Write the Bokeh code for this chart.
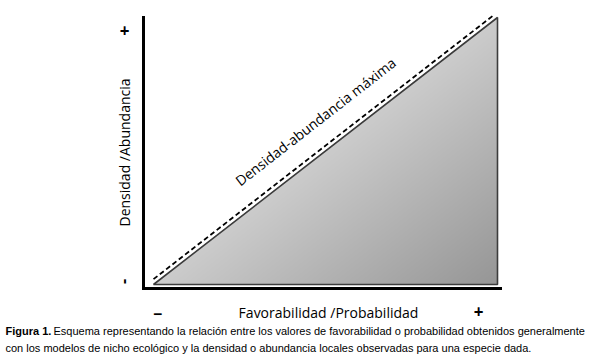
import math
import numpy as np
from bokeh.plotting import figure
from bokeh.models import Range1d, Label
from bokeh.embed import file_html
from bokeh.resources import INLINE

# ---- data ----
favorabilidad = [0.0, 1.0]          # x: - .. +
densidad_max = [0.0, 1.0]           # y: maximum density line
x_tick_labels = ["−", "+"]
y_tick_labels = ["-", "+"]
x_title = "Favorabilidad /Probabilidad"
y_title = "Densidad /Abundancia"
line_title = "Densidad-abundancia máxima"
caption_bold = "Figura 1."
caption_1 = "Esquema representando la relación entre los valores de favorabilidad o probabilidad obtenidos generalmente"
caption_2 = "con los modelos de nicho ecológico y la densidad o abundancia locales observadas para una especie dada."

W, H = 590, 361
AX_L, AX_R, AX_T, AX_B = 143, 500, 17, 288  # axis lines, pixels
X0PX, X1PX, Y0PX, Y1PX = 153, 497, 284, 17  # where data 0/1 fall
sx = (X1PX - X0PX)
sy = (Y0PX - Y1PX)


def dx(px):
    return (px - X0PX) / sx


def dy(py):
    return (Y0PX - py) / sy


p = figure(width=W, height=H, output_backend="svg", toolbar_location=None,
           x_range=Range1d(dx(0), dx(W)), y_range=Range1d(dy(H), dy(0)),
           min_border=0)
p.grid.visible = False
p.axis.visible = False
p.outline_line_color = None
p.background_fill_color = "white"
p.border_fill_color = "white"

# axis lines
p.segment(x0=[dx(AX_L), dx(AX_L)], y0=[dy(AX_B), dy(AX_B)],
          x1=[dx(AX_L), dx(AX_R)], y1=[dy(AX_T), dy(AX_B)],
          line_color="black", line_width=3, line_cap="square")

# gradient fill of the triangle (light near the diagonal, darker bottom-right)
nx, ny = sx, sy
xs = (np.arange(nx) + 0.5) / nx
ys = (np.arange(ny) + 0.5) / ny
XX, YY = np.meshgrid(xs, ys)
gray = np.clip(204 - 54 * (XX - YY), 0, 255).astype(np.uint32)
slope = (densidad_max[1] - densidad_max[0]) / (favorabilidad[1] - favorabilidad[0])
alpha = np.where(YY <= XX * slope, 255, 0).astype(np.uint32)
img = (alpha << 24) | (gray << 16) | (gray << 8) | gray
p.image_rgba(image=[img.view(np.uint32)], x=favorabilidad[0], y=densidad_max[0],
             dw=favorabilidad[1] - favorabilidad[0], dh=densidad_max[1] - densidad_max[0])

# triangle outline
tri_x = [favorabilidad[0], favorabilidad[1], favorabilidad[1]]
tri_y = [densidad_max[0], densidad_max[1], densidad_max[0]]
p.patch(tri_x, tri_y, fill_color=None, line_color="#3c3c3c", line_width=1.6)

# dashed maximum line, slightly above the diagonal
offset = 0.02
dash_x = [favorabilidad[0], favorabilidad[1] - 0.01]
p.line(dash_x, [v * slope + offset for v in dash_x], line_color="black",
       line_width=1.8, line_dash="5 3")

ang = math.atan2(sy, sx)
FONT = "Open Sans"


def lab(px, py, text, **kw):
    opts = dict(text_align="center", text_baseline="middle", text_font=FONT,
                text_font_size="14px", text_color="black")
    opts.update(kw)
    p.add_layout(Label(x=dx(px), y=dy(py), text=text, **opts))


lab(315, 121, line_title, angle=ang, text_font_size="14px")

# axis titles
lab(124, 152, y_title, angle=math.pi / 2)
lab(328, 312, x_title)

# +/- ends
lab(124, 30, y_tick_labels[1], text_font_size="17px", text_font_style="bold")
lab(122, 281, y_tick_labels[0], angle=math.pi / 2, text_font_size="16px", text_font_style="bold")
lab(157, 313, x_tick_labels[0], text_font_size="16px", text_font_style="bold")
lab(478, 311, x_tick_labels[1], text_font_size="17px", text_font_style="bold")

# caption
CF = "Liberation Sans"
lab(5, 330, caption_bold, text_align="left", text_font=CF, text_font_size="11px",
    text_font_style="bold")
lab(53, 330, caption_1, text_align="left", text_font=CF, text_font_size="11px")
lab(5, 347, caption_2, text_align="left", text_font=CF, text_font_size="11px")

open("out.html", "w").write(file_html(p, INLINE))
